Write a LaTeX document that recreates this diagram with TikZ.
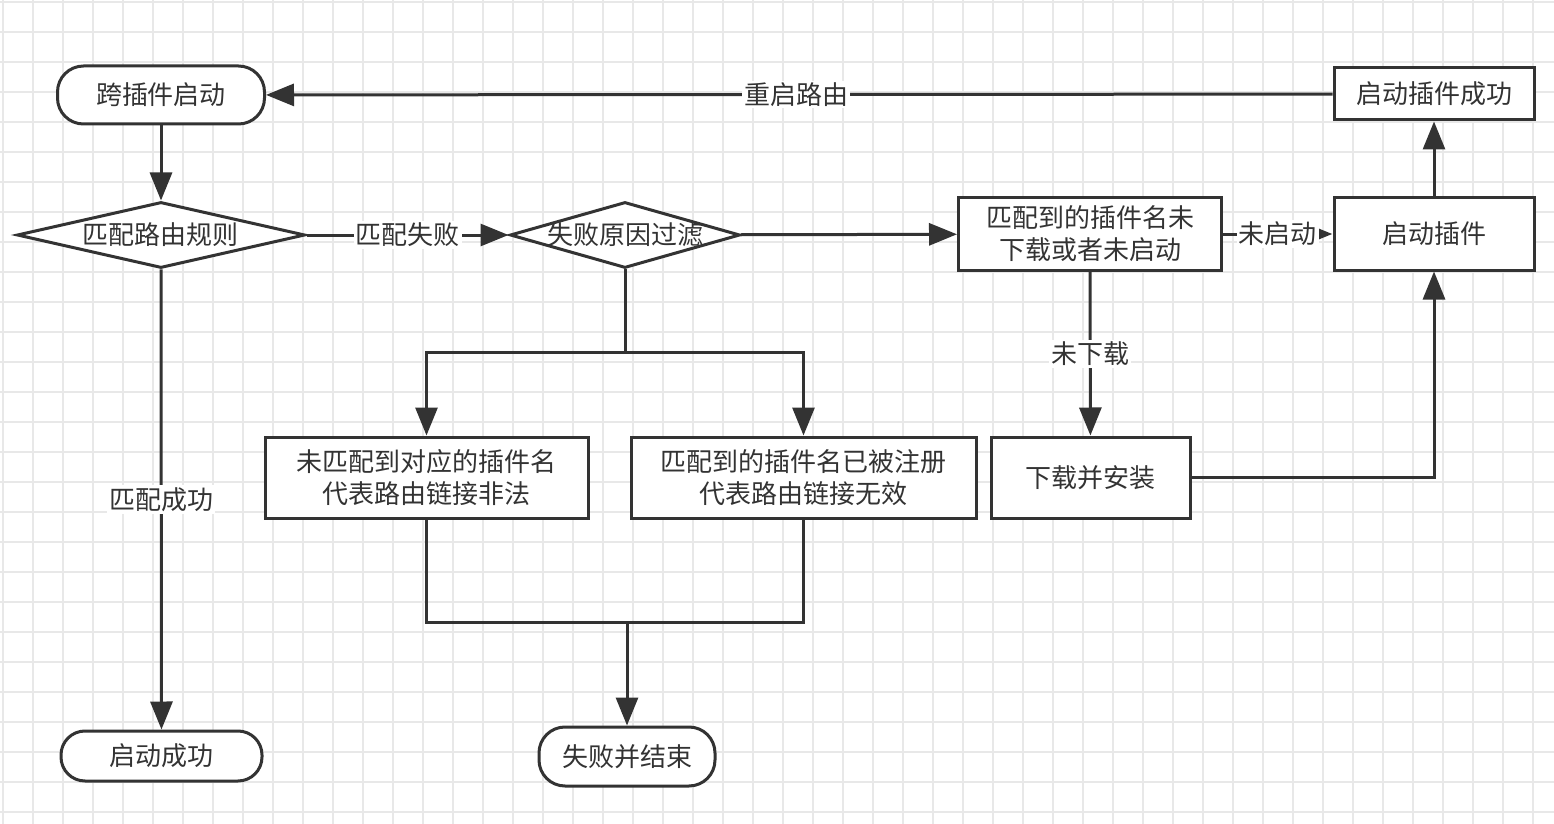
\documentclass[tikz,border=0pt]{standalone}
\usepackage{fontspec}
\setmainfont{Noto Sans CJK SC}
\usetikzlibrary{arrows.meta,shapes.geometric}
\definecolor{ink}{HTML}{333333}
\definecolor{gridc}{HTML}{E8E8E8}
\begin{document}
\begin{tikzpicture}[x=0.5pt,y=-0.5pt,
  every node/.style={text=ink,font=\fontsize{13}{16}\selectfont},
  box/.style={draw=ink,line width=1.5pt,fill=white,rectangle,inner sep=0pt,align=center},
  term/.style={box,rounded corners=13pt},
  dia/.style={draw=ink,line width=1.5pt,fill=white,diamond,inner sep=0pt},
  arr/.style={draw=ink,line width=1.5pt,-{Triangle[length=14pt,width=11pt]}},
  sarr/.style={draw=ink,line width=1.5pt,-{Triangle[length=7.5pt,width=5.5pt]}},
  ln/.style={draw=ink,line width=1.5pt},
  lbl/.style={fill=white,inner sep=1pt}]
\useasboundingbox (0,0) rectangle (1554,824);
\fill[white] (0,0) rectangle (1554,824);
\foreach \x in {3,33,...,1554} \draw[gridc,line width=0.6pt] (\x,0) -- (\x,824);
\foreach \y in {2,32,...,824} \draw[gridc,line width=0.6pt] (0,\y) -- (1554,\y);

\node[term,minimum width=103.5pt,minimum height=29pt] (start) at (161,95) {跨插件启动};
\node[dia,minimum width=144pt,minimum height=33pt,aspect=4.36,label={center:匹配路由规则}] (d1) at (161,235) {};
\node[dia,minimum width=115pt,minimum height=33pt,aspect=3.48,label={center:失败原因过滤}] (d2) at (625,235) {};
\node[box,minimum width=131.5pt,minimum height=36.5pt] (nd) at (1090,234) {匹配到的插件名未\\下载或者未启动};
\node[box,minimum width=100pt,minimum height=36pt] (si) at (1434,234) {启动插件};
\node[box,minimum width=100pt,minimum height=26pt] (ok) at (1434,94) {启动插件成功};
\node[box,minimum width=161.5pt,minimum height=40.5pt] (f1) at (426.5,477.5) {未匹配到对应的插件名\\代表路由链接非法};
\node[box,minimum width=172.5pt,minimum height=40.5pt] (f2) at (803.5,477.5) {匹配到的插件名已被注册\\代表路由链接无效};
\node[box,minimum width=99.5pt,minimum height=40.5pt] (dl) at (1090.5,477.5) {下载并安装};
\node[term,minimum width=100.5pt,minimum height=25pt,rounded corners=12pt] (succ) at (161.5,756) {启动成功};
\node[term,minimum width=88pt,minimum height=29.5pt] (fin) at (627,756.5) {失败并结束};

\coordinate (j1) at (625,352);
\coordinate (j2) at (627,622);

\draw[arr] (start) -- (d1);
\draw[arr] (ok) -- node[lbl,pos=0.503]{重启路由} (start);
\draw[arr] (d1) -- node[lbl]{匹配失败} (d2);
\draw[arr] (d1) -- node[lbl]{匹配成功} (succ);
\draw[arr] (d2) -- (nd);
\draw[ln] (d2) -- (j1);
\draw[arr] (j1) -| (f1);
\draw[arr] (j1) -| (f2);
\draw[arr] (nd) -- node[lbl]{未下载} (dl);
\draw[sarr] (nd) -- node[lbl]{未启动} (si);
\draw[arr] (dl) -| (si);
\draw[arr] (si) -- (ok);
\draw[ln] (f1) |- (j2);
\draw[ln] (f2) |- (j2);
\draw[arr] (j2) -- (fin);
\end{tikzpicture}
\end{document}
